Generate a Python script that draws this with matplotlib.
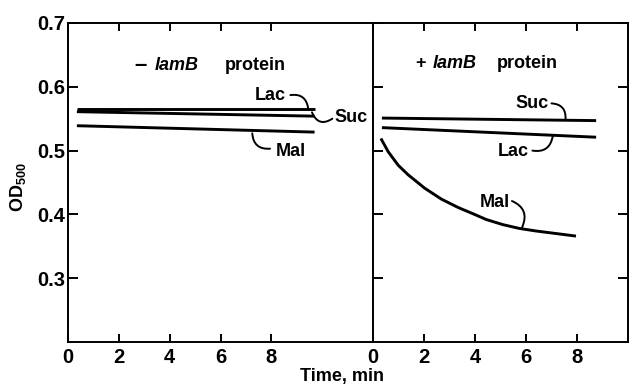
import matplotlib
matplotlib.use("Agg")
import matplotlib.pyplot as plt

plt.rcParams['font.family'] = ['Liberation Sans', 'DejaVu Sans']
plt.rcParams['mathtext.fontset'] = 'custom'
plt.rcParams['mathtext.rm'] = 'Liberation Sans'
plt.rcParams['mathtext.bf'] = 'Liberation Sans:bold'

# ---- data ----
left_t = [0.35, 9.7]
left_lac = [0.565, 0.565]
left_suc = [0.561, 0.554]
left_mal = [0.539, 0.529]

right_t = [0.35, 8.75]
right_suc = [0.551, 0.547]
right_lac = [0.536, 0.521]
right_mal_t = [0.31, 0.60, 0.99, 1.38, 2.03, 2.68, 3.33, 3.98, 4.44, 5.09, 5.74, 6.39, 7.18, 7.96]
right_mal = [0.519, 0.498, 0.477, 0.462, 0.441, 0.424, 0.411, 0.400, 0.392, 0.384, 0.378, 0.374, 0.370, 0.366]

x_ticks = [0, 2, 4, 6, 8]
y_ticks = [0.3, 0.4, 0.5, 0.6, 0.7]
y_ticklabels = ['0.3', '0.4', '0.5', '0.6', '0.7']

W, H = 629, 388
fig = plt.figure(figsize=(W / 100, H / 100), dpi=100)
axL = fig.add_axes([68 / W, 1 - 342 / H, 305 / W, 319 / H])
axR = fig.add_axes([373 / W, 1 - 342 / H, 255 / W, 319 / H])

lw = 2.1
tfs = 14.5
for ax in (axL, axR):
    ax.set_ylim(0.2, 0.7)
    for s in ax.spines.values():
        s.set_linewidth(1.4)
    ax.set_xticks(x_ticks)
    ax.set_xticklabels([str(v) for v in x_ticks], fontsize=tfs, fontweight='bold')
    ax.tick_params(axis='x', direction='in', length=6, width=1.4, top=True, pad=4)
    ax.tick_params(axis='y', direction='in', length=7, width=1.4, pad=2)

axL.set_xlim(0, 12)
axR.set_xlim(0, 10)

axL.set_yticks(y_ticks)
axL.set_yticklabels(y_ticklabels, fontsize=tfs, fontweight='bold')
axR.set_yticks(y_ticks)
axR.set_yticklabels([])
axR.tick_params(axis='y', right=True)

# lines
axL.plot(left_t, left_lac, color='black', lw=lw, solid_capstyle='butt')
axL.plot(left_t, left_suc, color='black', lw=lw, solid_capstyle='butt')
axL.plot(left_t, left_mal, color='black', lw=lw, solid_capstyle='butt')
axR.plot(right_t, right_suc, color='black', lw=lw, solid_capstyle='butt')
axR.plot(right_t, right_lac, color='black', lw=lw, solid_capstyle='butt')
axR.plot(right_mal_t, right_mal, color='black', lw=lw, solid_capstyle='butt',
         solid_joinstyle='round')

fs = 13
def label(ax, text, pos, start, end, rad):
    ax.text(pos[0], pos[1], text, fontsize=fs, fontweight='bold',
            ha='center', va='center')
    ax.annotate('', xy=end, xytext=start,
                arrowprops=dict(arrowstyle='-', lw=1.4, color='black',
                                connectionstyle='arc3,rad=%f' % rad,
                                shrinkA=0, shrinkB=0))

label(axL, 'Lac', (7.95, 0.586), (8.75, 0.587), (9.45, 0.566), -0.5)
label(axL, 'Suc', (11.15, 0.552), (10.4, 0.550), (9.6, 0.560), -0.6)
label(axL, 'Mal', (8.75, 0.498), (7.95, 0.503), (7.25, 0.527), -0.5)

label(axR, 'Suc', (6.25, 0.574), (7.0, 0.574), (7.55, 0.549), -0.5)
label(axR, 'Lac', (5.5, 0.498), (6.25, 0.500), (7.05, 0.523), 0.5)
label(axR, 'Mal', (4.78, 0.418), (5.45, 0.421), (5.85, 0.380), -0.5)

# panel titles
ty = 0.634
axL.text(2.86, ty, '\u2013', fontsize=16, fontweight='bold', ha='center', va='center')
axL.text(3.41, ty, 'lamB', fontsize=fs, fontweight='bold', style='italic',
         ha='left', va='center')
axL.text(6.16, ty, 'protein', fontsize=fs, fontweight='bold', ha='left', va='center')

ty2 = 0.637
axR.text(1.875, ty2, '+', fontsize=fs, fontweight='bold', ha='center', va='center')
axR.text(2.34, ty2, 'lamB', fontsize=fs, fontweight='bold', style='italic',
         ha='left', va='center')
axR.text(4.84, ty2, 'protein', fontsize=fs, fontweight='bold', ha='left', va='center')

fig.text(18 / W, 1 - 187 / H, r'$\mathbf{OD}_{\mathbf{500}}$', rotation=90,
         fontsize=13, ha='center', va='center')
fig.text(342 / W, 1 - 376 / H, 'Time, min', fontsize=13, fontweight='bold',
         ha='center', va='center')

fig.savefig('out.png', dpi=100)
